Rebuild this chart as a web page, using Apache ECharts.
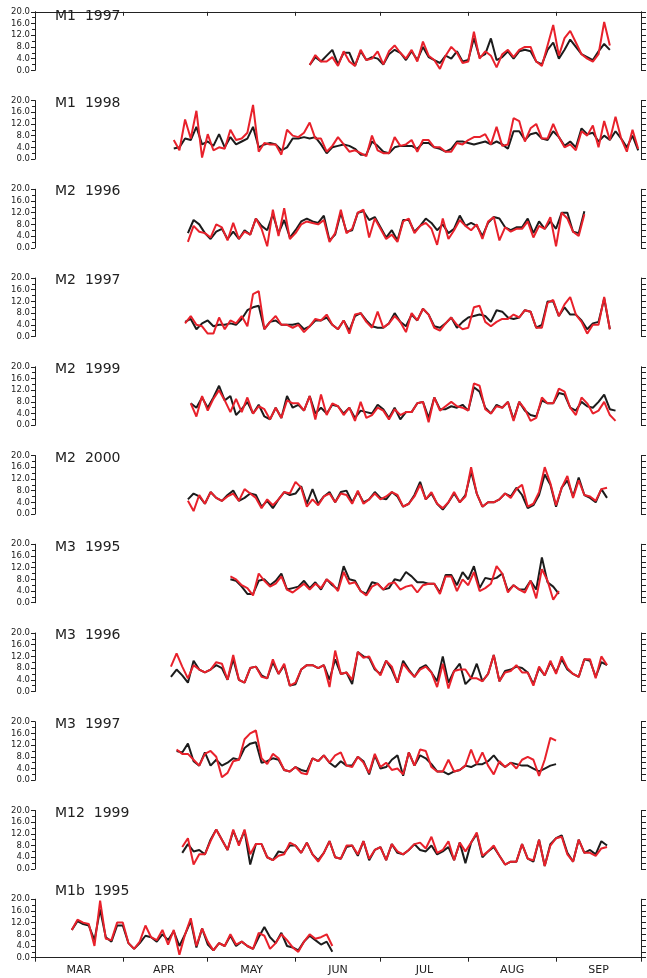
<!DOCTYPE html>
<html lang="en">
<head>
<meta charset="utf-8">
<script src="https://cdn.jsdelivr.net/npm/echarts@6.0.0/dist/echarts.min.js"></script>
</head>
<body style="margin:0;background:#fff">
<div id="chart" style="width:647px;height:978px"></div>
<script>
// x is day of season: day 0 = 1 March, values read every 2 days
var months = ['MAR', 'APR', 'MAY', 'JUN', 'JUL', 'AUG', 'SEP'];
var monthStarts = [0, 31, 61, 92, 122, 153, 184, 214];
var monthMids = [15.5, 45.5, 76.5, 107, 137.5, 168.5, 199];

var panelNames = ['M1  1997', 'M1  1998', 'M2  1996', 'M2  1997', 'M2  1999', 'M2  2000',
                  'M3  1995', 'M3  1996', 'M3  1997', 'M12  1999', 'M1b  1995'];
var panelStart = [97, 49, 54, 53, 55, 54, 69, 48, 50, 52, 13];
var step = 2;

var blk_M1_1997 = [1.8,4.5,3.0,5.0,7.0,2.0,6.0,6.0,1.5,6.5, 3.5,4.5,4.0,2.0,5.5,7.0,6.0,3.5,6.5,3.5,
  8.0,4.5,3.5,2.5,5.0,4.0,6.5,3.0,3.5,11.0, 4.5,5.5,10.9,3.5,4.5,6.5,4.0,6.5,7.0,6.5,
  3.0,2.0,7.0,9.5,4.0,7.0,10.5,8.0,5.5,4.5, 3.5,6.5,9.0,7.0];
var red_M1_1997 = [1.8,5.2,3.0,3.0,4.5,1.5,6.5,3.0,1.5,7.0, 3.5,4.0,6.5,2.0,6.5,8.5,6.0,4.0,7.0,3.0,
  9.8,5.0,3.5,0.5,5.0,8.0,6.0,2.5,3.0,13.2, 4.0,6.5,5.0,1.0,5.5,7.0,4.5,7.0,8.0,8.0,
  3.0,1.5,8.5,15.5,5.0,11.0,13.5,9.5,5.5,4.0, 3.0,5.5,16.5,8.5];

var blk_M1_1998 = [3.6,4.0,7.0,6.5,11.0,5.0,6.0,4.5,8.5,4.0, 7.5,5.0,6.0,7.0,11.0,4.0,5.0,5.5,5.0,3.0,
  4.0,7.0,7.0,7.5,7.0,7.5,5.0,2.0,4.0,4.5, 5.0,4.5,3.5,1.5,1.5,6.0,4.5,2.5,2.0,4.0,
  4.5,4.5,4.5,3.5,5.5,5.5,4.0,3.5,2.5,3.5, 6.0,6.0,5.5,5.0,5.5,6.0,5.0,6.0,5.0,3.5,
  9.5,9.5,6.5,8.5,9.0,7.0,6.5,9.5,7.5,4.5, 6.0,4.0,10.5,8.5,9.0,6.0,8.0,6.5,9.5,7.0,
  4.0,8.0,3.0];
var red_M1_1998 = [6.5,3.0,13.5,7.0,16.5,0.5,8.5,3.0,4.0,3.5, 10.0,6.5,7.0,9.0,18.5,2.5,5.5,5.0,5.0,1.5,
  10.0,8.0,7.5,9.0,12.5,7.0,7.0,2.5,4.5,7.5, 5.0,2.5,3.0,2.0,1.0,8.0,3.0,2.0,2.0,7.5,
  4.5,5.0,6.5,2.5,6.5,6.5,4.0,4.0,2.5,2.5, 5.5,5.0,6.5,7.5,7.5,8.5,5.0,11.0,4.5,5.0,
  14.0,13.0,6.0,10.5,12.0,7.0,7.0,12.0,7.5,4.0, 5.0,3.0,9.5,8.0,11.5,4.0,13.0,6.5,14.5,7.0,
  2.5,10.0,3.5];

var blk_M2_1996 = [5.0,9.5,8.0,5.0,3.0,5.5,6.5,3.0,5.5,3.0, 6.0,4.5,10.0,7.5,6.0,11.5,5.0,9.5,3.5,6.0,
  9.0,10.0,9.0,8.5,11.0,2.5,4.5,12.0,5.5,6.0, 12.0,12.5,9.5,10.5,7.0,3.5,6.0,2.5,9.5,9.5,
  5.5,7.5,10.0,8.5,6.0,8.0,5.0,6.5,11.0,7.5, 8.5,7.5,4.0,8.5,10.5,10.0,7.0,6.0,7.0,7.0,
  10.0,5.0,9.0,6.5,9.0,6.5,12.0,12.0,5.5,5.0, 12.5];
var red_M2_1996 = [2.0,7.5,5.5,5.0,3.5,8.0,7.0,2.5,8.5,3.0, 5.5,4.5,10.0,6.5,0.5,13.0,4.0,13.5,3.0,5.0,
  8.0,9.0,8.5,8.0,9.5,2.0,5.0,13.0,5.0,6.5, 12.0,13.0,3.5,10.0,6.5,3.0,4.5,2.0,9.0,10.0,
  5.0,7.5,8.5,6.5,1.0,10.0,3.0,6.0,9.5,7.5, 6.0,8.0,3.0,9.0,10.5,2.5,7.0,5.5,6.5,6.5,
  9.0,3.5,7.5,6.5,10.5,0.5,12.0,10.0,5.5,4.0, 11.5];

var blk_M2_1997 = [5.0,6.0,2.5,4.5,5.5,3.5,4.0,4.0,4.5,4.0, 6.0,9.0,10.0,10.5,2.5,5.0,5.5,4.0,4.0,4.0,
  4.5,2.5,3.5,5.5,5.5,6.5,4.0,2.5,5.5,2.0, 7.0,8.0,5.5,3.5,3.0,3.0,4.5,8.0,5.0,3.5,
  7.5,5.5,9.5,7.5,3.5,3.0,4.5,6.5,3.0,5.0, 6.5,7.0,7.5,7.0,5.0,9.0,8.5,6.5,6.0,6.5,
  9.0,8.5,3.0,4.0,12.0,12.0,7.0,10.0,7.5,7.5, 5.5,2.5,4.5,5.0,13.0,2.5];
var red_M2_1997 = [4.5,7.0,4.0,3.5,1.0,1.0,6.5,2.5,5.5,4.5, 7.0,3.5,14.5,15.5,2.5,5.0,7.0,4.0,4.0,3.0,
  4.0,1.5,3.5,6.0,5.5,7.5,4.0,2.5,5.5,1.0, 7.5,8.0,5.0,3.0,8.5,3.0,4.5,7.0,5.0,1.5,
  8.0,5.5,9.5,7.5,3.0,2.0,4.5,6.5,4.0,2.5, 3.0,10.0,10.5,5.0,3.5,5.0,6.0,6.0,7.5,6.5,
  9.0,8.5,3.0,3.0,11.5,12.5,7.0,11.0,13.5,7.5, 5.0,1.0,4.0,4.0,13.5,2.5];

var blk_M2_1999 = [7.5,6.0,9.5,6.0,9.5,13.5,8.5,10.0,3.5,5.5, 8.0,4.0,7.0,3.0,2.0,6.0,2.5,10.0,6.0,7.0,
  5.0,10.0,4.0,6.0,4.0,7.0,6.5,4.0,6.0,2.5, 5.0,4.5,4.0,7.0,5.5,2.5,6.0,2.0,4.5,4.5,
  7.5,8.0,2.5,9.5,5.5,5.5,6.5,6.0,7.0,5.0, 13.0,11.5,6.0,4.0,7.0,6.0,8.0,2.0,8.0,5.0,
  3.5,3.0,8.5,7.5,7.5,11.0,10.5,6.0,5.0,8.0, 6.5,6.0,8.0,10.5,5.5,5.0];
var red_M2_1999 = [7.5,3.0,10.0,5.0,9.0,12.0,8.5,4.5,9.0,4.5, 9.5,4.0,6.5,5.5,2.0,6.0,2.5,8.5,7.5,7.5,
  5.0,10.0,2.0,10.5,3.5,7.5,6.5,3.5,6.0,1.5, 8.0,2.5,3.5,6.0,5.0,2.0,5.5,3.5,4.5,4.5,
  7.5,8.0,1.0,9.5,5.0,6.5,8.0,6.5,6.0,5.0, 14.3,13.5,5.5,4.0,6.5,6.0,8.0,1.5,8.0,5.5,
  1.5,2.5,9.5,7.5,7.5,12.5,11.5,6.0,3.5,9.5, 7.5,4.0,5.0,8.0,3.5,1.5];

var blk_M2_2000 = [5.0,7.0,6.0,3.5,7.5,5.5,4.5,6.5,8.0,4.5, 5.5,7.0,6.5,2.5,4.5,2.0,5.0,7.5,6.5,7.0,
  9.5,3.5,8.5,3.5,6.0,7.5,4.0,7.5,8.0,4.0, 7.5,4.0,5.0,7.5,5.5,5.0,7.5,6.0,2.5,3.5,
  6.5,11.0,5.0,7.0,3.5,1.5,4.0,7.0,4.0,6.5, 14.5,7.0,2.5,4.0,4.0,5.0,7.0,6.0,9.0,6.5,
  2.0,3.0,6.5,13.5,10.0,2.5,9.0,11.5,6.0,12.5, 6.5,5.5,4.0,8.5,5.5];
var red_M2_2000 = [4.5,1.0,6.5,3.5,7.5,5.5,4.5,6.0,7.0,4.5, 8.5,7.0,5.5,2.0,5.0,3.0,5.0,7.5,7.0,11.0,
  9.0,2.5,5.0,3.0,6.0,7.0,4.0,7.0,6.5,3.5, 8.0,3.5,5.0,7.0,5.0,6.0,7.5,6.5,2.5,3.5,
  6.0,10.0,5.0,7.5,3.5,2.0,4.0,7.5,4.0,6.0, 16.0,7.0,2.5,4.0,4.0,5.0,7.0,5.5,8.5,10.0,
  2.5,3.5,7.5,16.0,10.5,3.0,9.0,13.0,5.5,11.5, 6.5,6.0,4.5,8.5,9.0];

var blk_M3_1995 = [8.0,7.5,5.5,3.0,3.0,7.5,8.0,6.0,7.5,10.0, 4.5,5.0,5.5,7.5,5.0,7.0,4.5,8.0,6.0,4.5,
  12.5,8.0,7.5,4.0,3.0,7.0,6.5,4.5,5.0,8.0, 7.5,10.5,9.0,7.0,7.0,6.5,6.5,3.5,9.5,9.5,
  6.0,10.5,8.0,12.5,5.0,8.5,8.0,8.5,10.0,4.0, 6.0,4.5,4.5,7.5,4.5,15.5,7.0,5.5,3.0];
var red_M3_1995 = [9.0,8.0,6.0,5.0,2.5,10.0,7.5,5.5,6.5,9.0, 4.5,3.5,5.0,6.5,4.5,6.5,5.0,8.0,6.5,4.0,
  10.5,6.5,7.0,4.0,2.5,5.5,6.5,4.5,6.5,7.0, 4.5,5.5,6.0,3.5,6.0,6.5,6.5,3.0,9.0,9.0,
  4.0,8.0,6.0,10.5,4.0,5.0,6.5,12.5,10.0,3.5, 6.0,4.5,3.5,7.5,1.5,11.5,7.5,1.0,4.0];

var blk_M3_1996 = [5.0,7.5,5.5,3.0,10.5,7.5,6.5,7.5,9.0,8.0, 4.0,11.0,4.0,3.0,8.0,8.5,5.5,4.5,10.0,6.0,
  9.0,2.0,2.5,7.5,9.0,9.0,8.0,9.0,4.0,11.0, 6.0,6.5,2.5,13.5,12.0,11.5,7.5,6.0,10.5,7.5,
  3.0,10.5,7.5,5.0,8.0,9.0,6.5,3.5,12.0,3.0, 7.0,9.5,2.5,4.5,9.5,3.5,6.0,12.5,3.5,7.0,
  7.5,8.5,8.0,6.5,2.5,8.0,5.5,10.0,6.5,11.0, 7.5,6.0,5.0,11.0,10.5,5.0,10.0,9.0];
var red_M3_1996 = [8.5,13.0,8.5,4.5,9.0,7.5,6.5,7.5,10.0,9.5, 4.0,12.5,4.0,3.0,8.0,8.5,5.0,4.5,11.0,6.0,
  9.5,2.0,3.0,7.5,9.0,9.0,8.0,9.0,1.5,14.0, 6.0,6.5,4.0,13.5,11.5,12.0,8.0,5.5,10.5,8.5,
  3.0,9.5,7.0,5.0,7.5,8.5,6.5,1.5,9.5,1.0, 7.0,7.5,7.5,4.5,4.5,3.5,6.0,12.5,3.5,6.5,
  7.0,9.0,6.5,6.5,2.0,8.5,5.5,10.5,6.0,12.0, 8.0,6.0,5.0,11.0,11.0,4.5,12.0,9.0];

var blk_M3_1997 = [10.0,9.5,12.5,6.5,5.0,9.5,5.0,7.0,5.0,6.0, 7.5,7.0,11.0,12.5,13.0,6.0,6.5,7.5,7.0,3.5,
  3.0,4.5,3.5,3.0,7.5,6.5,8.5,6.0,4.5,6.5, 5.0,5.0,8.0,6.5,2.0,8.5,4.0,4.5,7.0,8.5,
  1.5,9.5,5.0,8.5,7.5,5.5,3.0,3.0,2.0,3.0, 3.5,5.0,4.5,5.5,5.5,6.5,8.5,6.0,4.5,6.0,
  5.5,5.0,5.0,4.0,3.0,4.0,5.0,5.5];
var red_M3_1997 = [10.5,9.0,9.0,7.0,5.0,9.0,10.0,8.0,1.0,2.5, 6.5,7.0,14.0,16.0,17.0,7.5,5.5,9.0,7.5,3.5,
  3.0,4.5,2.5,2.0,7.5,6.5,8.5,6.0,8.5,9.5, 5.0,4.5,8.0,6.0,2.5,9.0,4.5,6.0,3.5,4.0,
  2.0,9.5,5.0,10.5,10.0,4.5,3.0,3.0,7.0,3.0, 3.5,5.0,10.5,5.5,9.5,5.0,2.0,6.5,4.5,6.0,
  4.0,7.0,8.0,7.0,1.5,7.0,14.5,13.5];

var blk_M12_1999 = [5.5,8.5,6.0,6.5,5.0,10.0,13.5,10.0,6.5,13.0, 8.5,13.0,1.5,8.5,8.5,4.0,3.0,6.0,5.5,8.0,
  8.0,5.5,9.0,5.0,3.0,5.5,9.5,4.0,3.5,7.5, 8.0,4.5,9.5,3.0,6.5,7.5,3.0,8.5,5.5,5.0,
  6.5,8.5,6.5,6.0,8.0,5.0,6.0,7.5,3.0,9.0, 2.0,9.0,12.0,4.0,6.0,7.5,4.5,1.5,2.5,2.5,
  8.5,3.5,2.5,10.0,1.0,8.5,10.5,11.5,5.5,2.5, 10.0,5.5,6.5,5.0,9.5,8.0];
var red_M12_1999 = [7.5,10.5,1.5,5.0,5.0,9.5,13.5,10.0,6.5,13.5, 8.0,13.5,5.0,8.5,8.5,4.0,3.0,4.5,5.0,9.0,
  8.0,5.5,9.0,5.0,2.5,5.5,9.5,4.0,3.5,8.0, 8.0,5.0,9.5,3.5,6.5,7.5,3.0,8.5,6.0,5.0,
  6.5,8.5,9.0,7.0,11.0,5.5,6.5,9.5,3.0,9.0, 6.0,9.0,12.5,4.5,6.0,8.0,4.5,1.5,2.5,2.5,
  8.5,3.5,3.0,10.0,1.0,8.0,10.5,11.0,5.0,2.5, 10.0,5.5,5.5,4.5,7.0,7.5];

var blk_M1b_1995 = [9.5,12.5,11.5,11.0,6.0,16.5,7.0,5.5,11.0,11.0, 5.0,3.0,5.0,7.5,7.0,5.5,8.0,6.0,9.0,4.0,
  8.0,12.5,3.5,10.0,4.5,2.5,5.0,4.0,7.5,4.0, 5.5,4.0,3.0,7.0,10.5,7.0,5.0,8.5,4.0,3.5,
  2.5,5.5,7.5,6.0,4.5,5.5,2.0];
var red_M1b_1995 = [9.5,13.0,12.0,11.5,4.0,19.5,6.5,6.0,12.0,12.0, 5.0,3.0,5.5,11.0,7.0,6.0,9.5,4.5,9.5,1.0,
  8.0,13.5,4.0,10.0,5.5,2.5,5.0,4.0,8.0,4.5, 5.5,4.0,3.0,8.5,7.5,3.0,5.0,8.0,6.0,3.5,
  2.0,5.5,8.0,6.5,7.0,8.0,4.0];

var blackSeries = [blk_M1_1997, blk_M1_1998, blk_M2_1996, blk_M2_1997, blk_M2_1999, blk_M2_2000,
                   blk_M3_1995, blk_M3_1996, blk_M3_1997, blk_M12_1999, blk_M1b_1995];
var redSeries = [red_M1_1997, red_M1_1998, red_M2_1996, red_M2_1997, red_M2_1999, red_M2_2000,
                 red_M3_1995, red_M3_1996, red_M3_1997, red_M12_1999, red_M1b_1995];

// layout
var gridLeft = 35, gridWidth = 606, gridTop0 = 11.8, gridGap = 88.74, gridHeight = 58.5;
var labelDy = [6, 3.5, 3.5, 3.5, 3.5, 3.5, 4, 3.5, 3.5, 3.5, -6.5];
var nPanels = panelNames.length;
var ink = '#222';

function toPairs(vals, start) {
  return vals.map(function (v, i) { return [start + i * step, v]; });
}

var grids = [], xAxes = [], yAxes = [], series = [], titles = [];
for (var k = 0; k < nPanels; k++) {
  var gTop = gridTop0 + gridGap * k;
  var isFirst = k === 0, isLast = k === nPanels - 1;
  grids.push({ left: gridLeft, width: gridWidth, top: gTop, height: gridHeight });

  xAxes.push({
    gridIndex: k, type: 'value', min: 0, max: 214,
    show: isFirst || isLast,
    position: isFirst ? 'top' : 'bottom',
    axisLine: { show: true, onZero: false, lineStyle: { color: ink, width: 1 } },
    axisTick: { show: true, inside: isFirst, length: 4, customValues: monthStarts,
                lineStyle: { color: ink, width: 1 } },
    axisLabel: {
      show: isLast, customValues: monthMids, margin: 7,
      fontSize: 11, color: ink, fontFamily: 'DejaVu Sans',
      formatter: function (v) {
        var i = monthMids.indexOf(v);
        return i >= 0 ? months[i] : '';
      }
    },
    splitLine: { show: false }
  });

  yAxes.push({
    gridIndex: k, type: 'value', min: 0, max: 20, interval: 4, position: 'left',
    axisLine: { show: true, onZero: false, lineStyle: { color: ink, width: 1 } },
    axisTick: { show: true, length: 4, lineStyle: { color: ink, width: 1 } },
    minorTick: { show: true, splitNumber: 2, length: 3, lineStyle: { color: ink, width: 1 } },
    axisLabel: {
      margin: 5, fontSize: 8.5, color: ink, fontFamily: 'DejaVu Sans',
      formatter: function (v) { return v.toFixed(1); }
    },
    splitLine: { show: false }
  });
  yAxes.push({
    gridIndex: k, type: 'value', min: 0, max: 20, interval: 2, position: 'right',
    axisLine: { show: true, onZero: false, lineStyle: { color: ink, width: 1 } },
    axisTick: { show: true, length: 5, lineStyle: { color: ink, width: 1 } },
    axisLabel: { show: false },
    splitLine: { show: false }
  });

  series.push({
    type: 'line', xAxisIndex: k, yAxisIndex: 2 * k, z: 2,
    data: toPairs(blackSeries[k], panelStart[k]),
    showSymbol: false, symbol: 'none',
    lineStyle: { color: '#1c1c1c', width: 2 }, itemStyle: { color: '#1c1c1c' }
  });
  series.push({
    type: 'line', xAxisIndex: k, yAxisIndex: 2 * k, z: 3,
    data: toPairs(redSeries[k], panelStart[k]),
    showSymbol: false, symbol: 'none',
    lineStyle: { color: '#e8212b', width: 2 }, itemStyle: { color: '#e8212b' }
  });

  titles.push({
    text: panelNames[k], left: 55, top: gTop + labelDy[k] - 8, padding: 0,
    textStyle: { fontSize: 14, fontWeight: 'normal', color: ink, fontFamily: 'DejaVu Sans' }
  });
}

var chart = echarts.init(document.getElementById('chart'), null, { renderer: 'canvas' });
chart.setOption({
  animation: false,
  backgroundColor: '#fff',
  title: titles,
  grid: grids,
  xAxis: xAxes,
  yAxis: yAxes,
  series: series
});
</script>
</body>
</html>
